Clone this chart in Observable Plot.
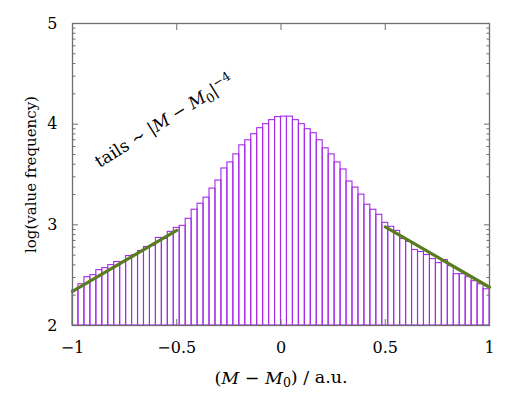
<!DOCTYPE html>
<html><head><meta charset="utf-8">
<script src="https://cdn.jsdelivr.net/npm/d3@7"></script>
<script src="https://cdn.jsdelivr.net/npm/@observablehq/plot@0.6"></script>
<style>body{margin:0;background:#fff} svg{display:block}</style>
</head><body><div id="chart"></div>
<script>
// histogram: 70 bins from -1 to 1, values = log10(frequency)
const binLo = -1, binHi = 1;
const logFreq = [
  2.35, 2.41, 2.48, 2.50, 2.55, 2.57, 2.60, 2.63, 2.63, 2.69,
  2.70, 2.74, 2.78, 2.79, 2.87, 2.86, 2.93, 2.97, 2.99, 3.06,
  3.15, 3.21, 3.27, 3.36, 3.44, 3.56, 3.62, 3.70, 3.79, 3.84,
  3.90, 3.96, 4.00, 4.04, 4.07,
  4.075, 4.075, 4.04, 4.00, 3.95, 3.91, 3.84, 3.76, 3.70, 3.62,
  3.55, 3.43, 3.37, 3.30, 3.20, 3.15, 3.10, 3.02, 2.98, 2.94,
  2.86, 2.83, 2.75, 2.73, 2.70, 2.66, 2.62, 2.65, 2.59, 2.51,
  2.51, 2.48, 2.44, 2.41, 2.36
];
// tail fits
const tailLeftX = [-1, -0.5], tailLeftY = [2.34, 2.945];
const tailRightX = [0.5, 1], tailRightY = [2.98, 2.38];
// ticks
const xTicks = [-1, -0.5, 0, 0.5, 1];
const yTicks = [2, 3, 4, 5];
const yMinorFactors = [2, 3, 4, 5, 6, 7, 8, 9];
// texts
const xTitle = "(M − M0) / a.u.";
const yTitle = "log(value frequency)";
const annotText = "tails ∼ |M − M0|−4";
const annotX = [-0.56], annotY = [4.03];

const FONT = "'DejaVu Serif', 'Liberation Serif', serif";
const n = logFreq.length;
const w = (binHi - binLo) / n;
const bins = logFreq.map((v, i) => ({x1: binLo + i * w, x2: binLo + (i + 1) * w, v}));
const tails = [
  ...tailLeftX.map((x, i) => ({x, y: tailLeftY[i], s: "L"})),
  ...tailRightX.map((x, i) => ({x, y: tailRightY[i], s: "R"}))
];
const yMinor = [];
for (let d = yTicks[0]; d < yTicks[yTicks.length - 1]; d++)
  for (const k of yMinorFactors) yMinor.push(d + Math.log10(k));

const axisColor = "#6e6e6e";
const chart = Plot.plot({
  width: 532, height: 399,
  marginLeft: 72, marginRight: 43, marginTop: 23, marginBottom: 74,
  style: {fontFamily: FONT, fontSize: "16px", color: "#000", background: "#fff"},
  x: {domain: [binLo, binHi], label: null},
  y: {domain: [yTicks[0], yTicks[yTicks.length - 1]], label: null},
  marks: [
    Plot.rect(bins, {x1: "x1", x2: "x2", y1: yTicks[0], y2: "v", fill: "none", stroke: "#a52ae8", strokeWidth: 1.1}),
    Plot.line(tails, {x: "x", y: "y", z: "s", stroke: "#587d1f", strokeWidth: 3.2}),
    // inward ticks
    Plot.axisY(yTicks, {anchor: "left", tickSize: -6, tickFormat: () => "", stroke: axisColor}),
    Plot.axisY(yTicks, {anchor: "right", tickSize: -6, tickFormat: () => "", stroke: axisColor}),
    Plot.axisY(yMinor, {anchor: "left", tickSize: -3.5, tickFormat: () => "", stroke: axisColor}),
    Plot.axisY(yMinor, {anchor: "right", tickSize: -3.5, tickFormat: () => "", stroke: axisColor}),
    Plot.axisX(xTicks, {anchor: "bottom", tickSize: -6, tickFormat: () => "", stroke: axisColor}),
    Plot.axisX(xTicks, {anchor: "top", tickSize: -6, tickFormat: () => "", stroke: axisColor}),
    // labels
    Plot.axisY(yTicks, {anchor: "left", tickSize: 0, tickPadding: 15, tickFormat: d3.format("d"), fontSize: 16, fontFamily: FONT}),
    Plot.axisX(xTicks, {anchor: "bottom", tickSize: 0, tickPadding: 16, tickFormat: d3.format(""), fontSize: 16, fontFamily: FONT}),
    Plot.frame({stroke: axisColor, strokeWidth: 1.3}),
    Plot.text([yTitle], {frameAnchor: "left", textAnchor: "middle", dx: -41, rotate: -90, fontSize: 15, fontFamily: FONT}),
    Plot.text([xTitle], {frameAnchor: "bottom", textAnchor: "middle", dy: 58, fontSize: 17.5, fontFamily: FONT}),
    Plot.text([annotText], {x: annotX, y: annotY, rotate: -32, fontSize: 17, fontFamily: FONT})
  ]
});
document.getElementById("chart").appendChild(chart);

function rich(str, parts) {
  const sel = d3.select(chart).selectAll("text").filter(function () { return this.textContent === str; });
  sel.each(function () {
    const el = d3.select(this);
    el.text(null);
    for (const p of parts) {
      const t = el.append("tspan").text(p.t);
      if (p.i) t.attr("font-style", "italic");
      if (p.dy) t.attr("dy", p.dy);
      if (p.fs) t.attr("font-size", p.fs);
    }
  });
}
rich(xTitle, [
  {t: "("}, {t: "M", i: true}, {t: " − "}, {t: "M", i: true},
  {t: "0", dy: "0.3em", fs: "12.5px"}, {t: ") / a.u.", dy: "-0.22em"}
]);
rich(annotText, [
  {t: "tails ∼ |"}, {t: "M", i: true}, {t: " − "}, {t: "M", i: true},
  {t: "0", dy: "0.3em", fs: "12.5px"}, {t: "|", dy: "-0.22em"},
  {t: "−4", dy: "-0.5em", fs: "12.5px"}
]);
</script>
</body></html>
